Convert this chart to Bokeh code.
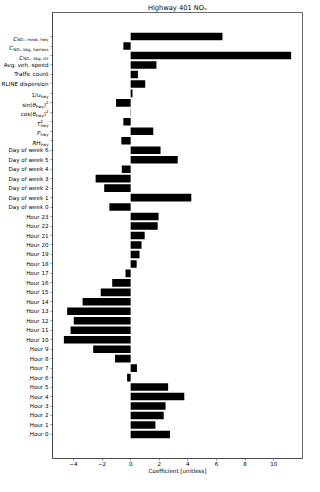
from bokeh.plotting import figure
from bokeh.layouts import row
from bokeh.models import FixedTicker, Range1d, ColumnDataSource
from bokeh.core.properties import value
from bokeh.embed import file_html
from bokeh.resources import INLINE

# ---------------- data ----------------
features = [
    "C_NO2, meas, hwy", "C_NO2, bkg, hanlans", "C_NOx, bkg, ctr",
    "Avg. veh. speed", "Traffic count", "RLINE dispersion",
    "1/u_hwy", "sin(theta_hwy)^2", "cos(theta_hwy)^2", "T^2_hwy", "P_hwy", "RH_hwy",
    "Day of week 6", "Day of week 5", "Day of week 4", "Day of week 3",
    "Day of week 2", "Day of week 1", "Day of week 0",
    "Hour 23", "Hour 22", "Hour 21", "Hour 20", "Hour 19", "Hour 18",
    "Hour 17", "Hour 16", "Hour 15", "Hour 14", "Hour 13", "Hour 12",
    "Hour 11", "Hour 10", "Hour 9", "Hour 8", "Hour 7", "Hour 6",
    "Hour 5", "Hour 4", "Hour 3", "Hour 2", "Hour 1", "Hour 0",
]
coefficients = [
    6.42, -0.51, 11.22,
    1.80, 0.51, 1.02,
    0.13, -1.02, 0.02, -0.51, 1.58, -0.65,
    2.09, 3.29, -0.62, -2.45,
    -1.85, 4.24, -1.49,
    1.95, 1.89, 0.98, 0.76, 0.62, 0.42,
    -0.36, -1.29, -2.09, -3.36, -4.44, -3.98,
    -4.20, -4.67, -2.62, -1.09, 0.44, -0.25,
    2.62, 3.75, 2.44, 2.31, 1.73, 2.75,
]
x_ticks = [-4, -2, 0, 2, 4, 6, 8, 10]
title_text = "Highway 401 NOₓ"
x_label = "Coefficient [unitless]"

# math-style labels: (text, size scale, dy px (up), style, advances)
math_labels = {
    "C_NO2, meas, hwy": [("C", 1, 0, "italic", True), ("NO₂, meas, hwy", 0.7, -1.4, "normal", True)],
    "C_NO2, bkg, hanlans": [("C", 1, 0, "italic", True), ("NO₂, bkg, hanlans", 0.7, -1.4, "normal", True)],
    "C_NOx, bkg, ctr": [("C", 1, 0, "italic", True), ("NOₓ, bkg, ctr", 0.7, -1.4, "normal", True)],
    "1/u_hwy": [("1/", 1, 0, "normal", True), ("u", 1, 0, "italic", True), ("hwy", 0.7, -1.4, "normal", True)],
    "sin(theta_hwy)^2": [("sin(", 1, 0, "normal", True), ("θ", 1, 0, "italic", True),
                         ("hwy", 0.7, -1.4, "normal", True), (")", 1, 0, "normal", True),
                         ("2", 0.7, 2.4, "normal", True)],
    "cos(theta_hwy)^2": [("cos(", 1, 0, "normal", True), ("θ", 1, 0, "italic", True),
                         ("hwy", 0.7, -1.4, "normal", True), (")", 1, 0, "normal", True),
                         ("2", 0.7, 2.4, "normal", True)],
    "T^2_hwy": [("T", 1, 0, "italic", True), ("2", 0.7, 2.6, "normal", False),
                ("hwy", 0.7, -1.6, "normal", True)],
    "P_hwy": [("P", 1, 0, "italic", True), ("hwy", 0.7, -1.4, "normal", True)],
    "RH_hwy": [("RH", 1, 0, "italic", True), ("hwy", 0.7, -1.4, "normal", True)],
}

# DejaVu Sans advance widths (units per 2048 em)
W = {' ': 651, ',': 651, '.': 651, '/': 690, '(': 799, ')': 799, '₂': 850, 'ₓ': 950,
     'a': 1255, 'b': 1300, 'c': 1126, 'd': 1300, 'e': 1260, 'g': 1300, 'h': 1298, 'i': 569,
     'k': 1186, 'l': 569, 'm': 1995, 'n': 1298, 'o': 1253, 'r': 842, 's': 1067, 't': 803,
     'u': 1298, 'w': 1675, 'y': 1212, 'x': 1212, 'C': 1430, 'H': 1540, 'N': 1532, 'O': 1612,
     'P': 1235, 'R': 1423, 'T': 1251, 'θ': 1253}
for d in "0123456789":
    W[d] = 1303


def tw(s, size):
    return sum(W.get(ch, 1200) for ch in s) / 2048.0 * size


FONT = "DejaVu Sans"
FS = 5.6
TEXT_COLOR = "black"
SPINE = "#444444"
HEIGHT = 476
TOP = 12
BOTTOM = 16
LABEL_W = 50
MAIN_W = 304 - LABEL_W

n = len(features)
ypos = [n - 1 - i for i in range(n)]

lo = min(min(coefficients), 0)
hi = max(max(coefficients), 0)
span = hi - lo
xr = Range1d(lo - 0.05 * span, hi + 0.05 * span)
yspan = (n - 1) + 0.8
yr = Range1d(-0.4 - 0.05 * yspan, n - 1 + 0.4 + 0.05 * yspan)

# ---------------- main chart ----------------
p = figure(width=MAIN_W, height=HEIGHT, x_range=xr, y_range=yr,
           output_backend="svg", toolbar_location=None, title=title_text,
           min_border_left=2, min_border_right=2,
           min_border_top=TOP, min_border_bottom=BOTTOM)

src = ColumnDataSource(dict(y=ypos, x=coefficients))
p.hbar(y="y", left=0, right="x", height=0.8, source=src,
       fill_color="black", line_color=None)

p.title.text_font = FONT
p.title.text_font_size = "6.7px"
p.title.text_font_style = "normal"
p.title.align = "center"
p.title.text_color = "black"
p.title.standoff = 2

p.xgrid.grid_line_color = None
p.ygrid.grid_line_color = None
p.outline_line_color = SPINE
p.outline_line_width = 0.8
p.background_fill_color = "white"
p.border_fill_color = "white"

for ax in (p.xaxis[0], p.yaxis[0]):
    ax.axis_line_color = SPINE
    ax.axis_line_width = 0.8
    ax.major_tick_line_color = SPINE
    ax.major_tick_line_width = 0.6
    ax.major_tick_in = 0
    ax.major_tick_out = 2
    ax.minor_tick_line_color = None
    ax.major_label_text_font = FONT
    ax.major_label_text_font_size = f"{FS}px"
    ax.major_label_text_color = TEXT_COLOR
    ax.major_label_standoff = 0

p.xaxis.ticker = FixedTicker(ticks=x_ticks)
p.xaxis.major_label_overrides = {t: (str(t).replace("-", "−")) for t in x_ticks}
p.xaxis.axis_label = x_label
p.xaxis.axis_label_text_font = FONT
p.xaxis.axis_label_text_font_size = f"{FS}px"
p.xaxis.axis_label_text_font_style = "normal"
p.xaxis.axis_label_text_color = TEXT_COLOR
p.xaxis.axis_label_standoff = -1

p.yaxis.ticker = FixedTicker(ticks=ypos)
p.yaxis.major_label_overrides = {y: "" for y in ypos}

# ---------------- tick-label panel ----------------
lp = figure(width=LABEL_W, height=HEIGHT, x_range=Range1d(0, LABEL_W), y_range=yr,
            output_backend="svg", toolbar_location=None,
            min_border_left=0, min_border_right=0,
            min_border_top=TOP, min_border_bottom=BOTTOM)
lp.axis.visible = False
lp.grid.grid_line_color = None
lp.outline_line_color = None
lp.background_fill_color = "white"
lp.border_fill_color = "white"

RIGHT = LABEL_W - 2
plain = [(y, name) for y, name in zip(ypos, features) if name not in math_labels]
lp.text(x=[RIGHT] * len(plain), y=[y for y, _ in plain], text=[nm for _, nm in plain],
        text_font_size=f"{FS}px", text_font=value(FONT),
        text_align="right", text_baseline="middle", text_color=TEXT_COLOR)

groups = {}
base = 0.36 * FS
for name, segs in math_labels.items():
    y = ypos[features.index(name)]
    total = sum(tw(t, FS * sc) for t, sc, dy, st, adv in segs if adv)
    x0 = RIGHT - total
    for t, sc, dy, st, adv in segs:
        key = (sc, st)
        g = groups.setdefault(key, dict(x=[], y=[], t=[], yo=[]))
        g["x"].append(x0)
        g["y"].append(y)
        g["t"].append(t)
        g["yo"].append(base - dy)
        if adv:
            x0 += tw(t, FS * sc)

for (sc, st), g in groups.items():
    lp.text(x="x", y="y", text="t", y_offset="yo",
            source=ColumnDataSource(g), text_font=value(FONT),
            text_font_size=f"{FS * sc:.2f}px", text_font_style=st,
            text_align="left", text_baseline="alphabetic", text_color=TEXT_COLOR)

layout = row(lp, p, spacing=0)
open("out.html", "w").write(file_html(layout, INLINE))
